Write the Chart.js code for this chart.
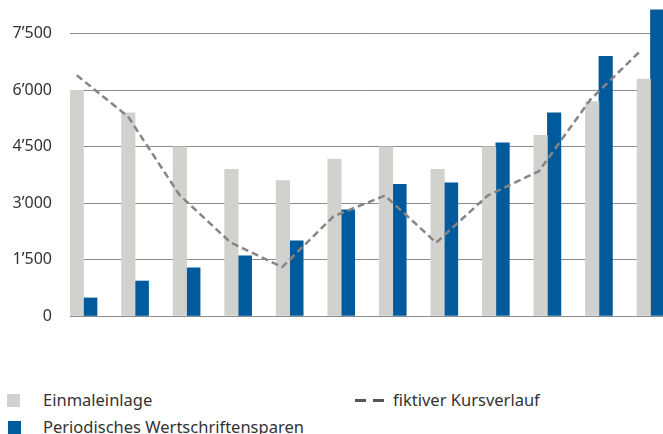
<!DOCTYPE html>
<html>
<head>
<meta charset="utf-8">
<script src="https://cdn.jsdelivr.net/npm/chart.js@4.4.1/dist/chart.umd.min.js"></script>
<style>
  body { margin: 0; background: #fff; overflow: hidden; }
  #wrap { position: relative; width: 663px; height: 434px; font-family: "Noto Sans", sans-serif; color: #333; }
  #box { position: absolute; left: 0; top: 0; width: 663px; height: 330px; }
  .sw { position: absolute; width: 13px; height: 13px; }
  .lbl { position: absolute; font-size: 16.5px; line-height: 20px; white-space: nowrap; }
  .dash { position: absolute; height: 3px; width: 11px; background: #555; }
</style>
</head>
<body>
<div id="wrap">
  <div id="box"><canvas id="chart"></canvas></div>
  <div class="sw" style="left:7px;top:394px;background:#d1d1cd"></div>
  <div class="lbl" style="left:43px;top:390px">Einmaleinlage</div>
  <div class="sw" style="left:8px;top:421px;background:#015a9b"></div>
  <div class="lbl" style="left:43px;top:417px">Periodisches Wertschriftensparen</div>
  <div class="dash" style="left:355px;top:399px"></div>
  <div class="dash" style="left:373px;top:399px"></div>
  <div class="lbl" style="left:393px;top:390px">fiktiver Kursverlauf</div>
</div>
<script>
// values
const periods = [1, 2, 3, 4, 5, 6, 7, 8, 9, 10, 11, 12];
const einmaleinlage = [6000, 5400, 4500, 3900, 3600, 4170, 4500, 3900, 4500, 4800, 5700, 6300];
const sparplan = [480, 930, 1280, 1600, 2000, 2820, 3500, 3540, 4600, 5400, 6900, 8140];
const kursverlauf = [6400, 5300, 3220, 1950, 1300, 2650, 3200, 1950, 3200, 3850, 5750, 7080];
const yTicks = [0, 1500, 3000, 4500, 6000, 7500];

const names = ["Einmaleinlage", "Periodisches Wertschriftensparen", "fiktiver Kursverlauf"];

function fmt(v) {
    return String(v).replace(/\B(?=(\d{3})+(?!\d))/g, "\u2019");
}

const pts = arr => arr.map((v, i) => ({ x: i, y: v }));

const ctx = document.getElementById("chart").getContext("2d");
new Chart(ctx, {
    data: {
        datasets: [
            {
                type: "line",
                label: names[2],
                data: pts(kursverlauf),
                xAxisID: "xl",
                borderColor: "#858585",
                borderWidth: 2.5,
                borderDash: [7, 4],
                pointRadius: 0,
                tension: 0,
                fill: false,
                order: 0
            },
            {
                type: "bar",
                label: names[0],
                data: pts(einmaleinlage),
                backgroundColor: "#d1d1cd",
                barThickness: 13.5,
                order: 1
            },
            {
                type: "bar",
                label: names[1],
                data: pts(sparplan),
                backgroundColor: "#015a9b",
                barThickness: 13.5,
                order: 1
            }
        ]
    },
    options: {
        responsive: true,
        maintainAspectRatio: false,
        animation: false,
        layout: { padding: { top: 0, right: 0, bottom: 14, left: 0 } },
        plugins: { legend: { display: false }, tooltip: { enabled: false } },
        scales: {
            x: {
                type: "linear",
                offset: false,
                min: -0.262,
                max: 11.243,
                display: false
            },
            xl: {
                type: "linear",
                offset: false,
                min: -0.1305,
                max: 11.415,
                display: false
            },
            y: {
                min: 0,
                max: 8400,
                afterBuildTicks: scale => {
                    scale.ticks = yTicks.map(v => ({ value: v }));
                },
                afterFit: scale => {
                    scale.width = 70;
                    scale.paddingTop = 0;
                    scale.paddingBottom = 0;
                },
                border: { display: false },
                grid: { color: "#8c8c8c", lineWidth: 1, drawTicks: false },
                ticks: {
                    padding: 18,
                    color: "#333",
                    font: { family: "Noto Sans", size: 16 },
                    callback: v => fmt(v)
                }
            }
        }
    }
});
</script>
</body>
</html>
